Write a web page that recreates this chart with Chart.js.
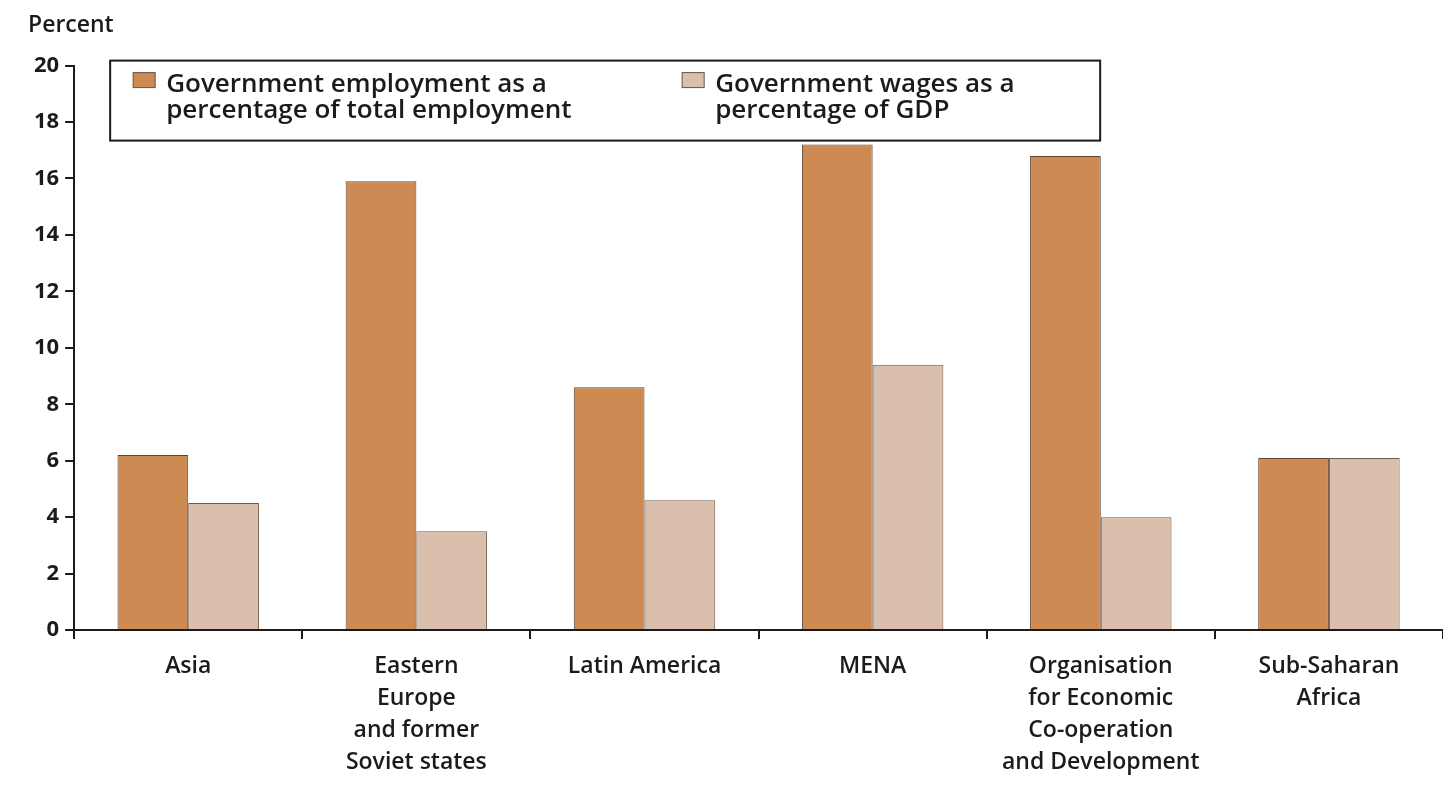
<!DOCTYPE html>
<html>
<head>
<meta charset="utf-8">
<script src="https://cdn.jsdelivr.net/npm/chart.js@4"></script>
<style>
  html, body { margin: 0; padding: 0; background: #ffffff; }
  #wrap { width: 1443px; height: 796px; }
</style>
</head>
<body>
<div id="wrap"><canvas id="govChart"></canvas></div>
<script>
  // categories and values
  var regions = [
      'Asia',
      ['Eastern', 'Europe', 'and former', 'Soviet states'],
      'Latin America',
      'MENA',
      ['Organisation', 'for Economic', 'Co-operation', 'and Development'],
      ['Sub-Saharan', 'Africa']
  ];
  var employmentShare = [6.2, 15.9, 8.6, 17.2, 16.8, 6.1];
  var wageShare = [4.5, 3.5, 4.6, 9.4, 4.0, 6.1];
  var employmentLabel = ['Government employment as a', 'percentage of total employment'];
  var wageLabel = ['Government wages as a', 'percentage of GDP'];
  var yTicks = [0, 2, 4, 6, 8, 10, 12, 14, 16, 18, 20];

  var fontFamily = '"Open Sans", "Noto Sans", sans-serif';
  var ink = '#1e1a18';

  // legend drawn as a boxed panel over the top of the plot
  var boxLegend = {
    id: 'boxLegend',
    afterDraw: function(chart) {
      var ctx = chart.ctx;
      var area = chart.chartArea;
      var left = area.left + 36, top = area.top - 5;
      var width = 990, height = 80;

      ctx.save();
      ctx.fillStyle = '#ffffff';
      ctx.fillRect(left, top, width, height);
      ctx.lineWidth = 2;
      ctx.strokeStyle = ink;
      ctx.strokeRect(left, top, width, height);

      var entries = [
        { lines: employmentLabel, ds: chart.data.datasets[0], x: left + 23 },
        { lines: wageLabel, ds: chart.data.datasets[1], x: left + 572 }
      ];
      ctx.font = '600 26px ' + fontFamily;
      ctx.textBaseline = 'alphabetic';
      entries.forEach(function(e) {
        ctx.fillStyle = e.ds.backgroundColor;
        ctx.fillRect(e.x, top + 12, 22, 15);
        ctx.lineWidth = 1;
        ctx.strokeStyle = '#6b5040';
        ctx.strokeRect(e.x, top + 12, 22, 15);
        ctx.fillStyle = ink;
        e.lines.forEach(function(line, i) {
          ctx.fillText(line, e.x + 33, top + 31 + i * 26);
        });
      });
      ctx.restore();
    }
  };

  var ctx = document.getElementById('govChart').getContext('2d');
  var govChart = new Chart(ctx, {
    type: 'bar',
    data: {
      labels: regions,
      datasets: [{
        label: employmentLabel.join(' '),
        data: employmentShare,
        backgroundColor: '#cd8a52',
        borderColor: '#5e4535',
        borderWidth: 1
      }, {
        label: wageLabel.join(' '),
        data: wageShare,
        backgroundColor: '#dabfac',
        borderColor: '#6e5a4e',
        borderWidth: 1
      }]
    },
    options: {
      responsive: true,
      maintainAspectRatio: false,
      animation: false,
      layout: { padding: { left: 28, right: 0, top: 0, bottom: 6 } },
      datasets: {
        bar: { categoryPercentage: 0.62, barPercentage: 1.0 }
      },
      plugins: {
        legend: { display: false },
        tooltip: { enabled: false },
        title: {
          display: true,
          text: 'Percent',
          align: 'start',
          color: ink,
          font: { family: fontFamily, size: 23, weight: '600' },
          padding: { top: 12, bottom: 26 }
        }
      },
      scales: {
        x: {
          offset: true,
          grid: {
            offset: true,
            drawOnChartArea: false,
            drawTicks: true,
            tickLength: 9,
            color: ink,
            lineWidth: 2
          },
          border: { display: true, color: ink, width: 2 },
          ticks: {
            color: ink,
            font: { family: fontFamily, size: 23, weight: '600', lineHeight: 1.38 },
            maxRotation: 0,
            autoSkip: false,
            padding: 12
          }
        },
        y: {
          min: 0,
          max: 20,
          afterBuildTicks: function(axis) {
            axis.ticks = yTicks.map(function(v) { return { value: v }; });
          },
          grid: {
            drawOnChartArea: false,
            drawTicks: true,
            tickLength: 9,
            color: ink,
            lineWidth: 2
          },
          border: { display: true, color: ink, width: 2 },
          ticks: {
            color: ink,
            font: { family: fontFamily, size: 22, weight: '700' },
            padding: 6
          }
        }
      }
    },
    plugins: [boxLegend]
  });
</script>
</body>
</html>
